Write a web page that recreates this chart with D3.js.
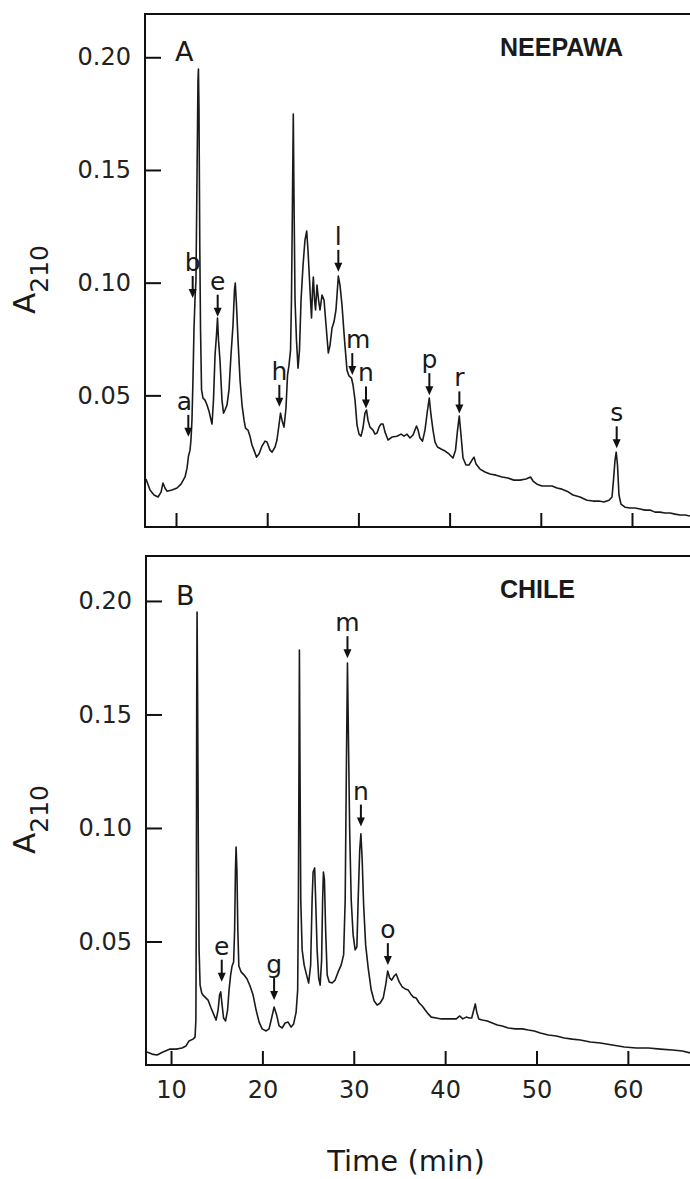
<!DOCTYPE html>
<html>
<head>
<meta charset="utf-8">
<script src="https://cdn.jsdelivr.net/npm/d3@7"></script>
<style>
  body { margin: 0; background: #fff; }
  svg { display: block; }
</style>
</head>
<body>
<div class="canvas"></div>
<script>
// ---- data ----
const timeA = [6.71, 7.15, 7.59, 8.03, 8.36, 8.57, 8.79, 9.01, 9.56, 10.11, 10.55, 10.99, 11.21, 11.37, 11.54, 11.64, 11.75, 11.86, 11.97, 12.08,
  12.19, 12.30, 12.41, 12.46, 12.52, 12.61, 12.69, 12.80, 12.96, 13.18, 13.40, 13.62, 13.84, 13.95, 14.11, 14.28, 14.44, 14.55, 14.66, 14.82,
  15.04, 15.21, 15.37, 15.59, 15.81, 16.03, 16.25, 16.41, 16.50, 16.63, 16.80, 17.02, 17.24, 17.46, 17.62, 17.89, 18.11, 18.33, 18.55, 18.83,
  19.10, 19.43, 19.76, 19.98, 20.31, 20.53, 20.86, 21.07, 21.29, 21.46, 21.62, 21.84, 22.06, 22.23, 22.39, 22.56, 22.66, 22.77, 22.86, 22.94,
  23.05, 23.21, 23.38, 23.54, 23.71, 23.93, 24.14, 24.33, 24.47, 24.64, 24.75, 24.86, 24.97, 25.06, 25.19, 25.30, 25.46, 25.63, 25.79, 26.01,
  26.23, 26.45, 26.70, 26.89, 27.11, 27.32, 27.54, 27.80, 27.98, 28.20, 28.48, 28.75, 28.97, 29.24, 29.41, 29.63, 29.85, 30.07, 30.29, 30.50,
  30.72, 30.89, 31.05, 31.27, 31.60, 31.82, 32.04, 32.26, 32.48, 32.70, 32.92, 33.25, 33.68, 34.23, 34.67, 35.00, 35.33, 35.66, 35.99, 36.37,
  36.54, 36.75, 37.03, 37.30, 37.58, 37.77, 37.96, 38.18, 38.40, 38.67, 39.06, 39.50, 39.93, 40.37, 40.65, 40.87, 41.06, 41.25, 41.47, 41.80,
  42.13, 42.46, 42.68, 42.90, 43.33, 43.88, 44.43, 45.09, 45.75, 46.40, 47.06, 47.72, 48.38, 48.87, 49.15, 49.58, 50.13, 50.68, 51.23, 51.78,
  52.32, 52.87, 53.53, 54.30, 55.07, 55.72, 56.38, 56.93, 57.48, 57.81, 57.97, 58.14, 58.27, 58.41, 58.57, 58.79, 59.23, 59.78, 60.33, 60.88,
  61.43, 61.97, 62.52, 63.07, 63.62, 64.17, 64.72, 65.26, 65.81, 66.36]
const absA = [0.0129, 0.0080, 0.0058, 0.0049, 0.0071, 0.0111, 0.0089, 0.0075, 0.0080, 0.0089, 0.0106, 0.0138, 0.0177, 0.0231, 0.0257, 0.0302, 0.0390, 0.0568, 0.0790, 0.0923,
  0.1012, 0.1455, 0.1899, 0.1948, 0.1766, 0.1145, 0.0790, 0.0524, 0.0488, 0.0479, 0.0457, 0.0430, 0.0390, 0.0373, 0.0479, 0.0679, 0.0768, 0.0843, 0.0745, 0.0657,
  0.0479, 0.0421, 0.0435, 0.0457, 0.0524, 0.0679, 0.0812, 0.0967, 0.0998, 0.0901, 0.0745, 0.0568, 0.0457, 0.0390, 0.0355, 0.0346, 0.0319, 0.0280, 0.0257, 0.0226,
  0.0240, 0.0275, 0.0297, 0.0293, 0.0257, 0.0248, 0.0271, 0.0302, 0.0368, 0.0421, 0.0390, 0.0359, 0.0444, 0.0590, 0.0634, 0.0701, 0.0923, 0.1367, 0.1748, 0.1367,
  0.0923, 0.0745, 0.0621, 0.0701, 0.0923, 0.1078, 0.1189, 0.1229, 0.1145, 0.1012, 0.0923, 0.0843, 0.0967, 0.1025, 0.0923, 0.0879, 0.0989, 0.0923, 0.0879, 0.0945,
  0.0923, 0.0812, 0.0688, 0.0723, 0.0799, 0.0825, 0.0879, 0.1029, 0.0989, 0.0901, 0.0745, 0.0612, 0.0586, 0.0577, 0.0546, 0.0479, 0.0368, 0.0328, 0.0319, 0.0355,
  0.0421, 0.0435, 0.0390, 0.0359, 0.0346, 0.0328, 0.0333, 0.0359, 0.0373, 0.0373, 0.0337, 0.0302, 0.0315, 0.0319, 0.0328, 0.0319, 0.0328, 0.0311, 0.0324, 0.0364,
  0.0346, 0.0311, 0.0297, 0.0346, 0.0435, 0.0488, 0.0413, 0.0346, 0.0293, 0.0271, 0.0262, 0.0253, 0.0240, 0.0222, 0.0257, 0.0346, 0.0408, 0.0324, 0.0222, 0.0191,
  0.0191, 0.0213, 0.0226, 0.0195, 0.0173, 0.0160, 0.0151, 0.0146, 0.0138, 0.0133, 0.0124, 0.0124, 0.0129, 0.0138, 0.0120, 0.0106, 0.0098, 0.0098, 0.0098, 0.0089,
  0.0084, 0.0075, 0.0058, 0.0049, 0.0035, 0.0031, 0.0031, 0.0027, 0.0035, 0.0049, 0.0124, 0.0213, 0.0248, 0.0191, 0.0058, 0.0018, 0.0004, 0.0000, 0.0000, -0.0004,
  -0.0009, -0.0009, -0.0018, -0.0018, -0.0022, -0.0022, -0.0027, -0.0031, -0.0031, -0.0035]

const timeB = [7.37, 7.92, 8.47, 9.12, 9.89, 10.55, 11.20, 11.64, 11.97, 12.41, 12.63, 12.72, 12.77, 12.81, 12.85, 12.91, 12.99, 13.07, 13.18, 13.36,
  13.50, 13.72, 14.05, 14.38, 14.65, 14.93, 15.15, 15.31, 15.44, 15.59, 15.75, 15.97, 16.19, 16.35, 16.52, 16.68, 16.85, 16.96, 17.05, 17.12,
  17.21, 17.31, 17.42, 17.67, 18.00, 18.32, 18.65, 18.98, 19.31, 19.64, 19.97, 20.41, 20.73, 21.01, 21.28, 21.56, 21.83, 22.16, 22.49, 22.81,
  23.14, 23.42, 23.69, 23.86, 23.94, 24.01, 24.05, 24.11, 24.20, 24.35, 24.57, 24.84, 25.06, 25.28, 25.44, 25.55, 25.72, 25.83, 25.99, 26.16,
  26.32, 26.48, 26.59, 26.68, 26.79, 26.92, 27.09, 27.31, 27.63, 27.96, 28.29, 28.62, 28.89, 29.06, 29.20, 29.31, 29.42, 29.55, 29.72, 29.93,
  30.15, 30.34, 30.48, 30.65, 30.78, 30.92, 31.08, 31.30, 31.58, 31.91, 32.23, 32.56, 32.89, 33.22, 33.49, 33.71, 33.93, 34.15, 34.42, 34.64,
  34.97, 35.30, 35.63, 35.96, 36.23, 36.51, 36.83, 37.16, 37.49, 37.82, 38.15, 38.48, 39.03, 39.57, 40.12, 40.78, 41.22, 41.60, 41.93, 42.31,
  42.64, 42.91, 43.13, 43.30, 43.46, 43.68, 44.06, 44.61, 45.16, 45.71, 46.25, 46.91, 47.68, 48.45, 49.10, 49.76, 50.42, 51.29, 52.17, 53.04,
  53.92, 54.80, 55.89, 56.99, 58.30, 59.62, 60.93, 62.25, 63.56, 64.87, 65.97, 66.85]
const absB = [0.0013, 0.0004, 0.0000, 0.0013, 0.0026, 0.0026, 0.0031, 0.0040, 0.0062, 0.0070, 0.0079, 0.0154, 0.0683, 0.1564, 0.1951, 0.1564, 0.0903, 0.0463, 0.0308, 0.0273,
  0.0264, 0.0255, 0.0242, 0.0207, 0.0181, 0.0154, 0.0198, 0.0264, 0.0278, 0.0220, 0.0163, 0.0150, 0.0198, 0.0286, 0.0352, 0.0392, 0.0410, 0.0551, 0.0815, 0.0916,
  0.0815, 0.0551, 0.0392, 0.0366, 0.0352, 0.0335, 0.0304, 0.0264, 0.0198, 0.0145, 0.0115, 0.0106, 0.0115, 0.0163, 0.0211, 0.0176, 0.0128, 0.0119, 0.0141, 0.0145,
  0.0123, 0.0137, 0.0189, 0.0286, 0.0683, 0.1344, 0.1784, 0.1299, 0.0683, 0.0463, 0.0396, 0.0352, 0.0317, 0.0396, 0.0683, 0.0806, 0.0824, 0.0683, 0.0463, 0.0339,
  0.0308, 0.0418, 0.0683, 0.0806, 0.0771, 0.0551, 0.0352, 0.0322, 0.0317, 0.0330, 0.0366, 0.0396, 0.0441, 0.0683, 0.1299, 0.1727, 0.1388, 0.0991, 0.0683, 0.0529,
  0.0463, 0.0476, 0.0683, 0.0903, 0.0974, 0.0859, 0.0661, 0.0485, 0.0383, 0.0286, 0.0238, 0.0220, 0.0229, 0.0251, 0.0308, 0.0370, 0.0339, 0.0330, 0.0348, 0.0357,
  0.0322, 0.0300, 0.0291, 0.0286, 0.0269, 0.0255, 0.0251, 0.0229, 0.0216, 0.0198, 0.0181, 0.0167, 0.0163, 0.0159, 0.0159, 0.0159, 0.0159, 0.0172, 0.0159, 0.0167,
  0.0163, 0.0163, 0.0198, 0.0225, 0.0189, 0.0159, 0.0154, 0.0150, 0.0141, 0.0132, 0.0128, 0.0119, 0.0115, 0.0115, 0.0110, 0.0106, 0.0097, 0.0088, 0.0084, 0.0075,
  0.0070, 0.0066, 0.0057, 0.0053, 0.0044, 0.0035, 0.0031, 0.0031, 0.0026, 0.0022, 0.0018, 0.0009]

// peak markers: letter, retention time of arrow, absorbance at arrow tip
const markNamesA = ['a', 'b', 'e', 'h', 'l', 'm', 'n', 'p', 'r', 's']
const markTimesA = [11.35, 11.83, 14.57, 21.33, 27.8, 29.33, 30.83, 37.78, 41.07, 58.32]
const markAbsA = [0.0316, 0.0932, 0.0849, 0.0449, 0.1048, 0.059, 0.0442, 0.0501, 0.042, 0.0265]

const markNamesB = ['e', 'g', 'm', 'n', 'o']
const markTimesB = [15.55, 21.28, 29.31, 30.78, 33.73]
const markAbsB = [0.0323, 0.0242, 0.1748, 0.1006, 0.0396]

const timeTicks = [10, 20, 30, 40, 50, 60]
const absTicks = [0.05, 0.10, 0.15, 0.20]

// ---- layout ----
const width = 690, height = 1179
const numFont = '"DejaVu Sans", sans-serif'

const panels = [
  { letter: 'A', title: 'NEEPAWA', time: timeA, abs: absA,
    names: markNamesA, mTimes: markTimesA, mAbs: markAbsA,
    left: 145, top: 14, bottom: 527, tDomain: [6.6, 66.36], aDomain: [-0.0084, 0.2192], tickLabels: false },
  { letter: 'B', title: 'CHILE', time: timeB, abs: absB,
    names: markNamesB, mTimes: markTimesB, mAbs: markAbsB,
    left: 146, top: 556, bottom: 1065, tDomain: [7.26, 66.8], aDomain: [-0.0044, 0.2198], tickLabels: true }
]

// small horizontal nudges of a few letters relative to their arrows
const nudge = { 'A-a': -4, 'A-m': 6 }

const svg = d3.select('.canvas')
  .append('svg')
  .attr('width', width)
  .attr('height', height)

svg.append('rect')
  .attr('width', width)
  .attr('height', height)
  .attr('fill', '#fff')

panels.forEach(p => {
  const x = d3.scaleLinear().domain(p.tDomain).range([p.left, width])
  const y = d3.scaleLinear().domain(p.aDomain).range([p.bottom, p.top])

  const g = svg.append('g')

  // frame: top, left, bottom (right edge is cut off in the original)
  g.append('path')
    .attr('d', `M${width},${p.top}H${p.left}V${p.bottom}H${width}`)
    .attr('fill', 'none')
    .attr('stroke', '#111')
    .attr('stroke-width', 2)

  // y axis, ticks pointing inward
  const yAxis = g.append('g')
    .attr('transform', `translate(${p.left},0)`)
    .call(d3.axisLeft(y).tickValues(absTicks).tickFormat(d3.format('.2f'))
      .tickSize(-16).tickPadding(14))
  yAxis.select('.domain').remove()
  yAxis.selectAll('line').attr('stroke', '#111').attr('stroke-width', 2)
  yAxis.selectAll('text')
    .attr('font-family', numFont)
    .attr('font-size', 24)
    .attr('fill', '#222')

  // x axis, ticks pointing up into the plot
  const xAxis = g.append('g')
    .attr('transform', `translate(0,${p.bottom})`)
    .call(d3.axisBottom(x).tickValues(timeTicks)
      .tickFormat(p.tickLabels ? d3.format('d') : '')
      .tickSize(-14).tickPadding(10))
  xAxis.select('.domain').remove()
  xAxis.selectAll('line').attr('stroke', '#111').attr('stroke-width', 2)
  xAxis.selectAll('text')
    .attr('font-family', numFont)
    .attr('font-size', 24)
    .attr('fill', '#222')
    .attr('dy', '0.95em')

  // chromatogram trace
  const pts = p.time.map((t, i) => [t, p.abs[i]])
  const line = d3.line()
    .x(d => x(d[0]))
    .y(d => y(d[1]))

  g.append('path')
    .datum(pts)
    .attr('d', line)
    .attr('fill', 'none')
    .attr('stroke', '#1a1a1a')
    .attr('stroke-width', 1.6)
    .attr('stroke-linejoin', 'round')

  // peak arrows with letters
  p.names.forEach((name, i) => {
    const mx = x(p.mTimes[i])
    const my = y(p.mAbs[i])
    g.append('line')
      .attr('x1', mx).attr('x2', mx)
      .attr('y1', my - 22).attr('y2', my - 7)
      .attr('stroke', '#111')
      .attr('stroke-width', 2)
    g.append('path')
      .attr('d', `M${mx - 4},${my - 9}L${mx + 4},${my - 9}L${mx},${my}Z`)
      .attr('fill', '#111')
    g.append('text')
      .attr('x', mx + (nudge[`${p.letter}-${name}`] || 0))
      .attr('y', my - 27)
      .attr('text-anchor', 'middle')
      .attr('font-family', numFont)
      .attr('font-size', 25)
      .attr('fill', '#1a1a1a')
      .text(name)
  })

  // panel letter and cultivar name
  g.append('text')
    .attr('x', p.left + 30)
    .attr('y', y(0.20) + 4)
    .attr('font-family', numFont)
    .attr('font-size', 27)
    .attr('fill', '#1a1a1a')
    .text(p.letter)

  g.append('text')
    .attr('x', 500)
    .attr('y', p.top + 42)
    .attr('font-family', '"Liberation Sans", Arial, sans-serif')
    .attr('font-weight', 'bold')
    .attr('font-size', 25)
    .attr('fill', '#1a1a1a')
    .text(p.title)

  // y label A210
  const yl = svg.append('text')
    .attr('transform', `translate(35,${(p.top + p.bottom) / 2 + 9}) rotate(-90)`)
    .attr('text-anchor', 'middle')
    .attr('font-family', numFont)
    .attr('fill', '#1a1a1a')
  yl.append('tspan').attr('font-size', 31).text('A')
  yl.append('tspan').attr('font-size', 25).attr('dy', 13).text('210')
})

// x label
svg.append('text')
  .attr('x', 406)
  .attr('y', 1171)
  .attr('text-anchor', 'middle')
  .attr('font-family', numFont)
  .attr('font-size', 29)
  .attr('fill', '#1a1a1a')
  .text('Time (min)')
</script>
</body>
</html>
